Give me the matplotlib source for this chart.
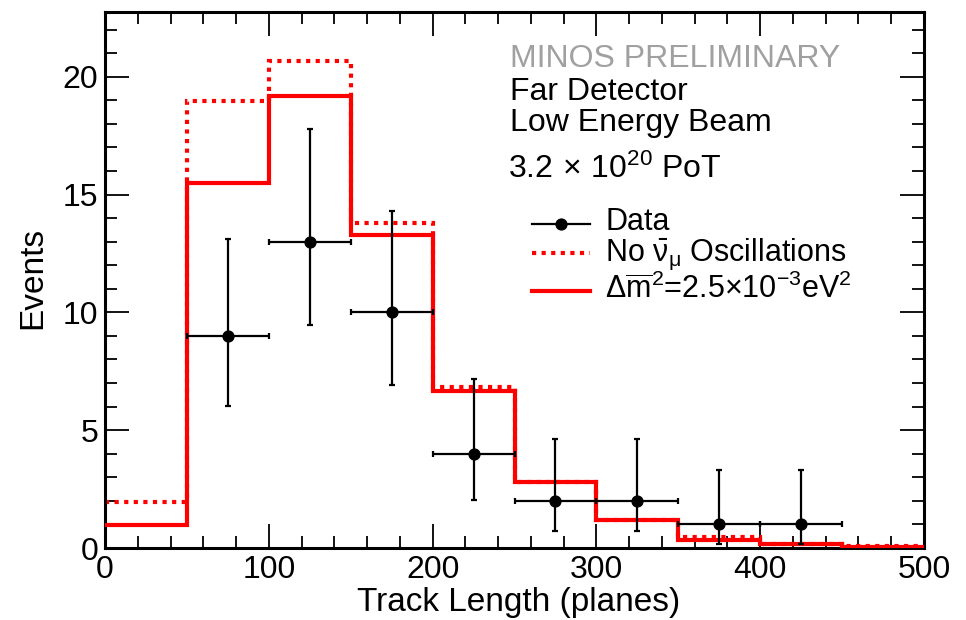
import numpy as np
import matplotlib
matplotlib.use("Agg")
import matplotlib.pyplot as plt
from matplotlib.lines import Line2D
from matplotlib.ticker import MultipleLocator

plt.rcParams['font.family'] = ['Liberation Sans', 'DejaVu Sans']
plt.rcParams['mathtext.fontset'] = 'custom'
plt.rcParams['mathtext.rm'] = 'Liberation Sans'
plt.rcParams['mathtext.it'] = 'Liberation Sans'
plt.rcParams['mathtext.bf'] = 'Liberation Sans:bold'

# Track length bins (planes)
bin_edges = [0, 50, 100, 150, 200, 250, 300, 350, 400, 450, 500]

# Predictions per bin
no_osc = [1.95, 18.98, 20.66, 13.8, 6.82, 2.8, 1.2, 0.45, 0.18, 0.07]
osc_fit = [0.98, 15.47, 19.18, 13.28, 6.68, 2.78, 1.19, 0.34, 0.16, 0.06]

# Observed events with asymmetric error bands
data_x = [75, 125, 175, 225, 275, 325, 375, 425]
data_y = [9, 13, 10, 4, 2, 2, 1, 1]
data_lo = [6.03, 9.46, 6.92, 2.04, 0.71, 0.71, 0.17, 0.17]
data_hi = [13.1, 17.78, 14.3, 7.18, 4.64, 4.64, 3.3, 3.3]
data_xerr = [25] * len(data_x)

W, H = 966, 620
fig = plt.figure(figsize=(W / 100, H / 100), dpi=100)
ax = fig.add_axes([105 / W, 1 - 548 / H, (924 - 105) / W, (548 - 11.7) / H])

red = '#ff0000'
lw = 3.0
dots = (0, (1, 1.3))
ax.stairs(no_osc, bin_edges, baseline=None, color=red, lw=lw,
          linestyle=dots, zorder=2)
ax.stairs(osc_fit, bin_edges, baseline=None, color=red, lw=lw, zorder=3)

yerr = np.array([np.array(data_y) - np.array(data_lo),
                 np.array(data_hi) - np.array(data_y)])
ax.errorbar(data_x, data_y, yerr=yerr, xerr=data_xerr, fmt='o', color='black',
            ms=7.8, elinewidth=1.6, capsize=2.2, capthick=1.6, zorder=4)

ax.set_xlim(0, 500)
ax.set_ylim(0, 22.76)
ax.xaxis.set_major_locator(MultipleLocator(100))
ax.xaxis.set_minor_locator(MultipleLocator(20))
ax.yaxis.set_major_locator(MultipleLocator(5))
ax.yaxis.set_minor_locator(MultipleLocator(1))
ax.tick_params(which='both', direction='in', top=True, right=True,
               labelsize=23, width=1.3, color='black')
ax.tick_params(which='major', length=17)
ax.tick_params(which='minor', length=8.5)
ax.tick_params(axis='y', pad=5)
ax.tick_params(axis='x', pad=5)
for s in ax.spines.values():
    s.set_linewidth(2.2)

fig.text(519 / W, 1 - 611.5 / H, 'Track Length (planes)', fontsize=24,
         ha='center', va='baseline')
fig.text(48 / W, 1 - 278 / H, 'Events', fontsize=24, rotation=90,
         ha='right', va='center')


def px(x, y):
    return x / W, 1 - y / H


# Annotations
fs = 23
fig.text(*px(510, 66.7), 'MINOS PRELIMINARY', fontsize=fs, color='#a0a0a0',
         va='baseline')
fig.text(*px(510, 100.5), 'Far Detector', fontsize=fs, va='baseline')
fig.text(*px(510, 130.5), 'Low Energy Beam', fontsize=fs, va='baseline')
fig.text(*px(508, 178), r'3.2$\,\times\,$10$^{20}$ PoT', fontsize=fs,
         va='baseline')

# Legend entries
lfs = 22
leg = [
    (224, dict(color='black', lw=1.6), 'Data', 229.5, True),
    (253, dict(color=red, lw=lw, linestyle=dots),
     r'No $\bar{\nu}_{\mu}$ Oscillations', 261, False),
    (291, dict(color=red, lw=lw),
     r'$\Delta\overline{m}^{2}$=2.5$\times$10$^{-3}$eV$^{2}$', 298, False),
]
for ly, style, label, base, marker in leg:
    x0, y0 = px(532, ly)
    x1, _ = px(590, ly)
    fig.add_artist(Line2D([x0, x1], [y0, y0], transform=fig.transFigure,
                          **style))
    if marker:
        fig.add_artist(Line2D([(x0 + x1) / 2], [y0], transform=fig.transFigure,
                              color='black', marker='o', ms=7.8, lw=0))
    fig.text(*px(605, base), label, fontsize=lfs, va='baseline')

fig.savefig('out.png', dpi=100)
